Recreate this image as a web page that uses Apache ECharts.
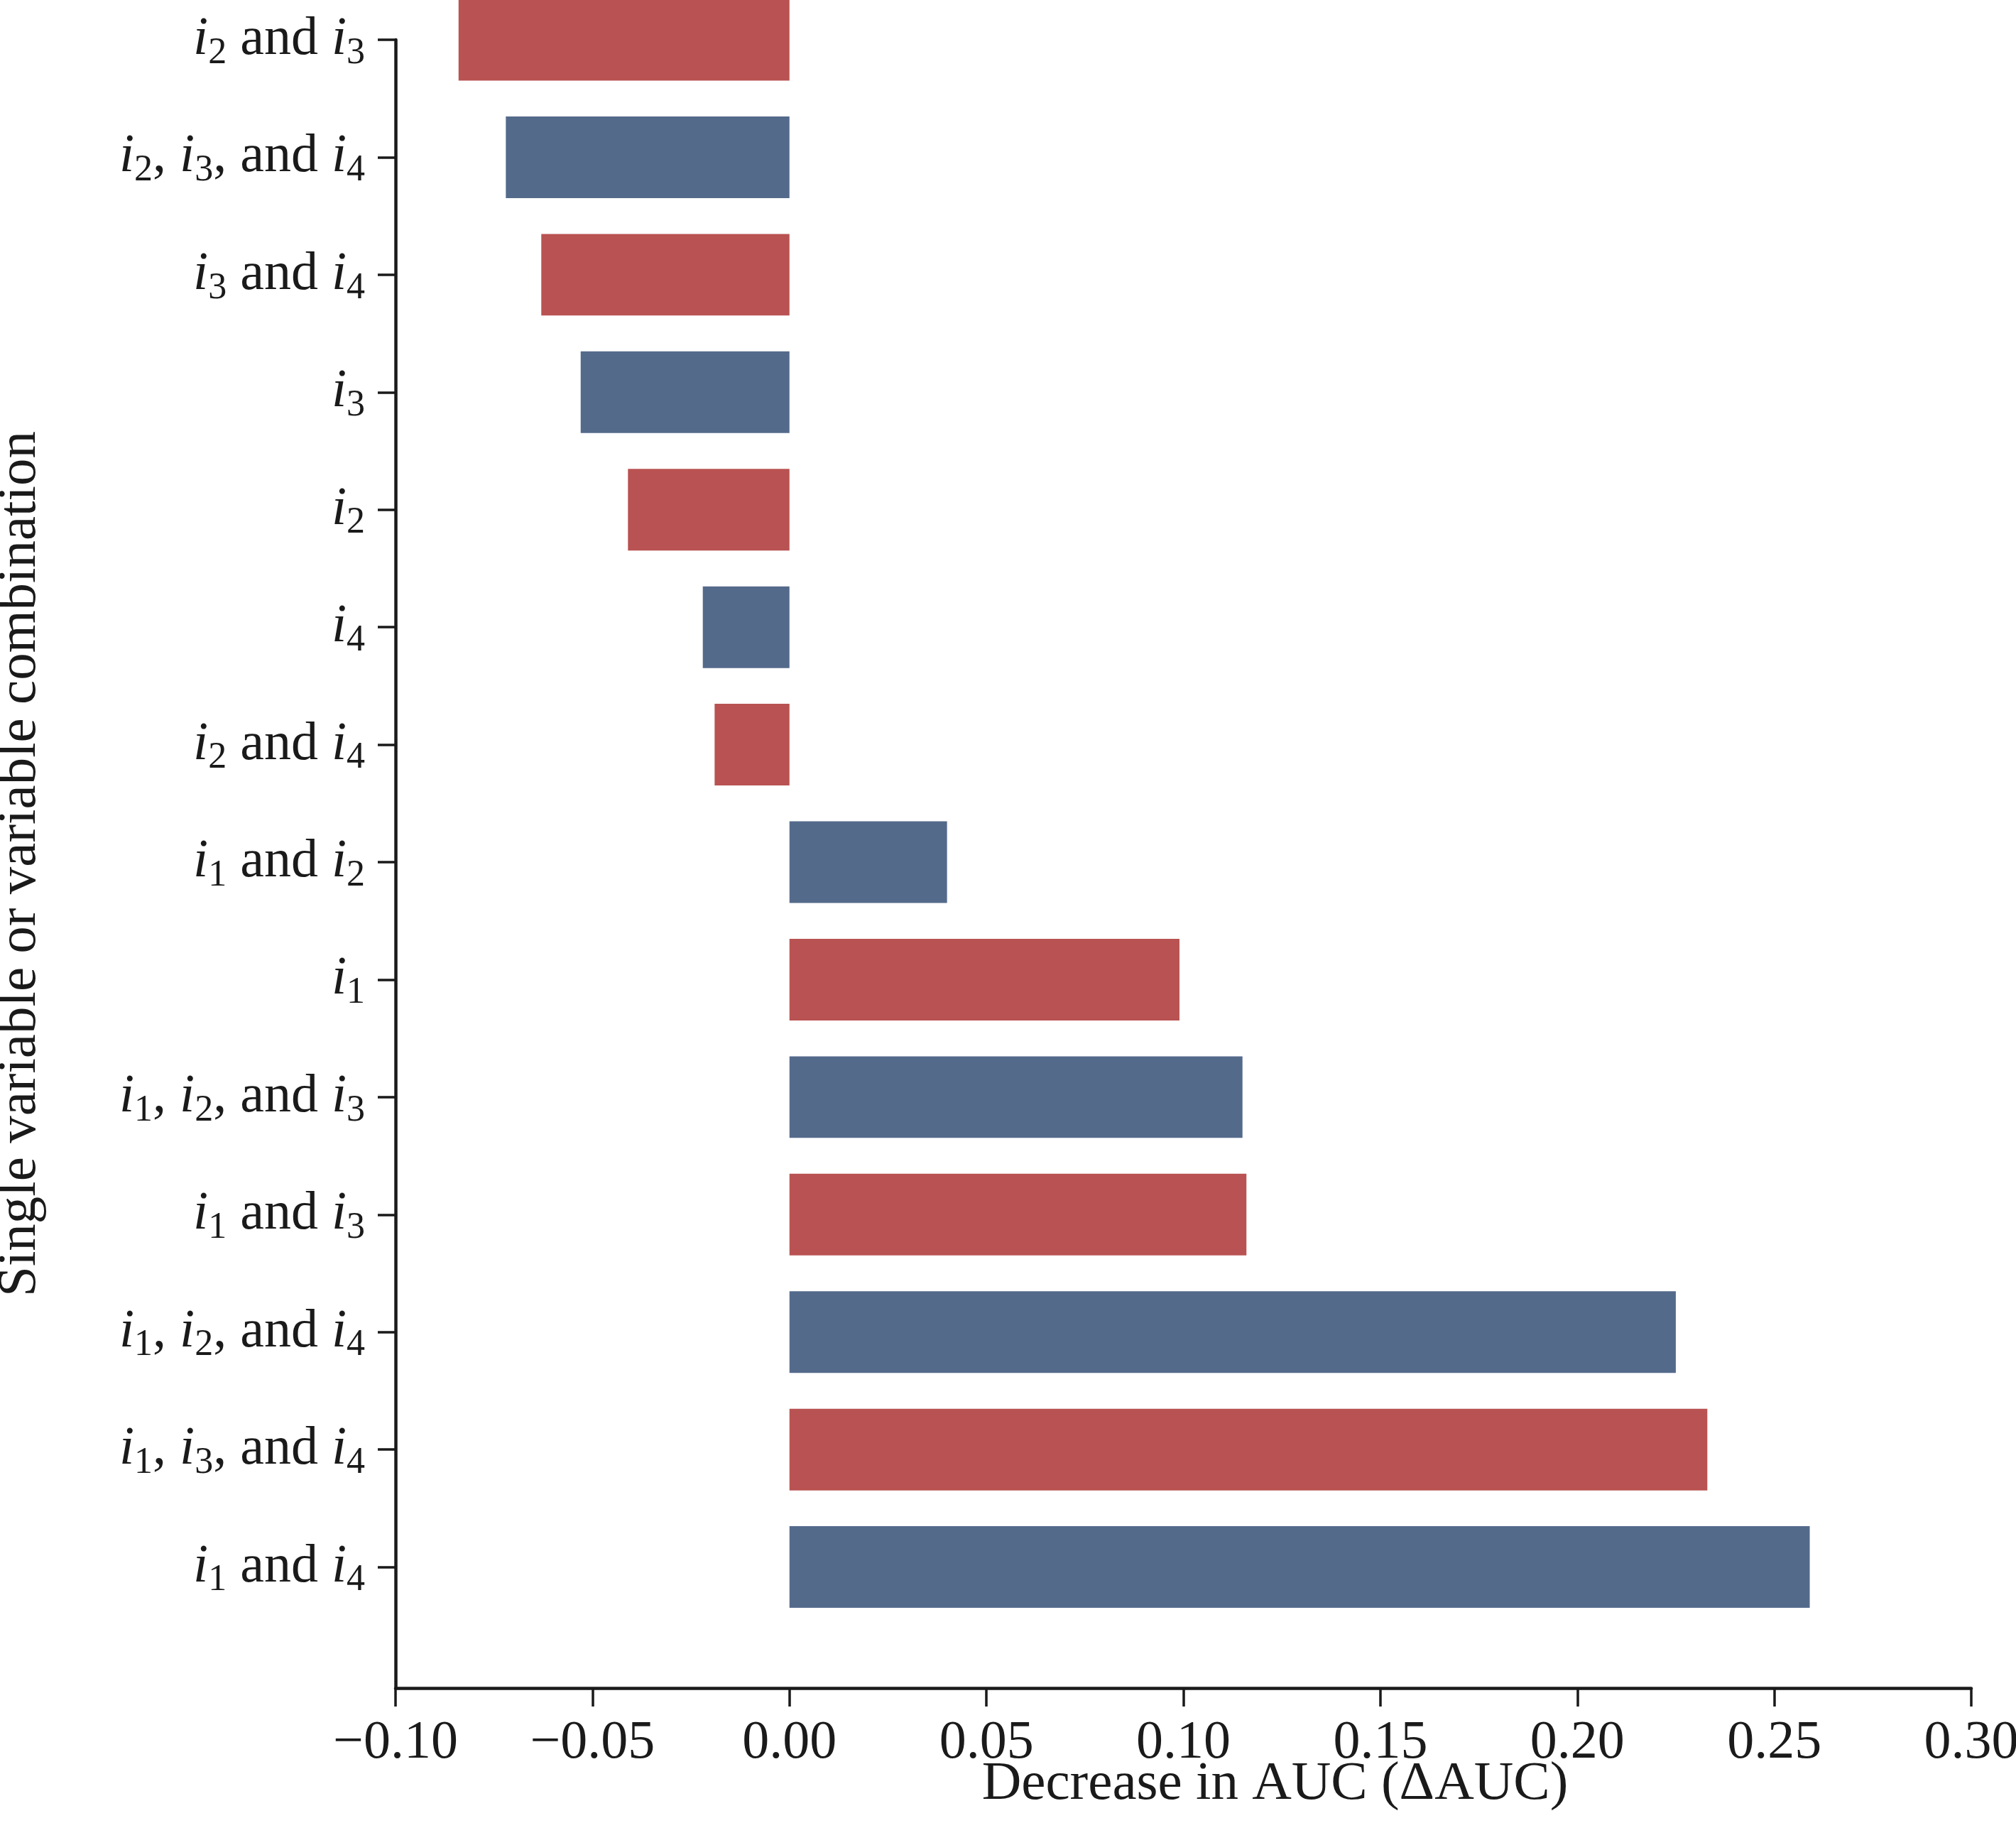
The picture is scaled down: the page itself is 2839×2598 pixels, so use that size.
<!DOCTYPE html>
<html>
<head>
<meta charset="utf-8">
<script src="https://cdn.jsdelivr.net/npm/echarts@6/dist/echarts.min.js"></script>
<style>
  html, body { margin: 0; padding: 0; background: #fff; }
  #chart { width: 2839px; height: 2598px; }
</style>
</head>
<body>
<div id="chart"></div>
<script>
// categories from top to bottom, "iN" means italic i with subscript N
const categories = [
  "i2 and i3",
  "i2, i3, and i4",
  "i3 and i4",
  "i3",
  "i2",
  "i4",
  "i2 and i4",
  "i1 and i2",
  "i1",
  "i1, i2, and i3",
  "i1 and i3",
  "i1, i2, and i4",
  "i1, i3, and i4",
  "i1 and i4"
];
const deltaAuc = [
  -0.084, -0.072, -0.063, -0.053, -0.041, -0.022, -0.019,
  0.040, 0.099, 0.115, 0.116, 0.225, 0.233, 0.259
];
const xTicks = [-0.10, -0.05, 0.00, 0.05, 0.10, 0.15, 0.20, 0.25, 0.30];

const RED = "#B95252";
const BLUE = "#546A8B";
const INK = "#1a1a1a";
const FONT = "Liberation Serif";

const seriesData = deltaAuc.map((v, i) => [v, i]);
const tickIdx = categories.map((c, i) => i);

// turn "i2" into italic i + subscript 2
function toRich(s) {
  return s.replace(/i(\d)/g, "{it|i}{sub|$1}");
}

const chart = echarts.init(document.getElementById("chart"));

chart.setOption({
  backgroundColor: "#fff",
  animation: false,
  grid: { left: 557, right: 63, top: 56, bottom: 221, outerBoundsMode: "none", containLabel: false },
  xAxis: {
    type: "value",
    min: xTicks[0],
    max: xTicks[xTicks.length - 1],
    interval: 0.05,
    name: "Decrease in AUC (\u0394AUC)",
    nameLocation: "middle",
    nameGap: 97,
    nameMoveOverlap: false,
    nameTextStyle: { fontFamily: FONT, fontSize: 77, color: INK, padding: [0, 0, 0, 258] },
    axisLine: { show: true, onZero: false, lineStyle: { color: INK, width: 4.5 } },
    axisTick: { show: true, length: 26, lineStyle: { color: INK, width: 3.5 } },
    axisLabel: {
      margin: 40,
      fontFamily: FONT,
      fontSize: 76,
      color: INK,
      formatter: (v) => (v < -1e-9 ? "\u2212" : "") + Math.abs(v).toFixed(2)
    },
    splitLine: { show: false }
  },
  yAxis: {
    type: "value",
    inverse: true,
    min: 0,
    max: 14.03,
    name: "Single variable or variable combination",
    nameLocation: "middle",
    nameGap: 490,
    nameMoveOverlap: false,
    nameTextStyle: { fontFamily: FONT, fontSize: 77, color: INK },
    axisLine: { show: true, onZero: false, lineStyle: { color: INK, width: 4.5 } },
    axisTick: { show: true, length: 25, customValues: tickIdx, lineStyle: { color: INK, width: 3.5 } },
    axisLabel: {
      margin: 43,
      customValues: tickIdx,
      formatter: (v) => toRich(categories[Math.round(v)] || ""),
      rich: {
        it: { fontFamily: FONT, fontSize: 76, fontStyle: "italic", color: INK },
        sub: { fontFamily: FONT, fontSize: 52, color: INK, padding: [38, 0, 0, 0] }
      },
      fontFamily: FONT,
      fontSize: 76,
      color: INK
    },
    splitLine: { show: false }
  },
  series: [{
    type: "custom",
    clip: false,
    encode: { x: 0, y: 1 },
    data: seriesData,
    renderItem: function (params, api) {
      const v = api.value(0);
      const i = api.value(1);
      const p0 = api.coord([0, i]);
      const p1 = api.coord([v, i]);
      const h = api.size([0, 1])[1] * 0.695;
      return {
        type: "rect",
        shape: {
          x: Math.min(p0[0], p1[0]),
          y: p0[1] - h / 2,
          width: Math.abs(p1[0] - p0[0]),
          height: h
        },
        style: { fill: i % 2 === 0 ? RED : BLUE }
      };
    }
  }]
});
</script>
</body>
</html>
